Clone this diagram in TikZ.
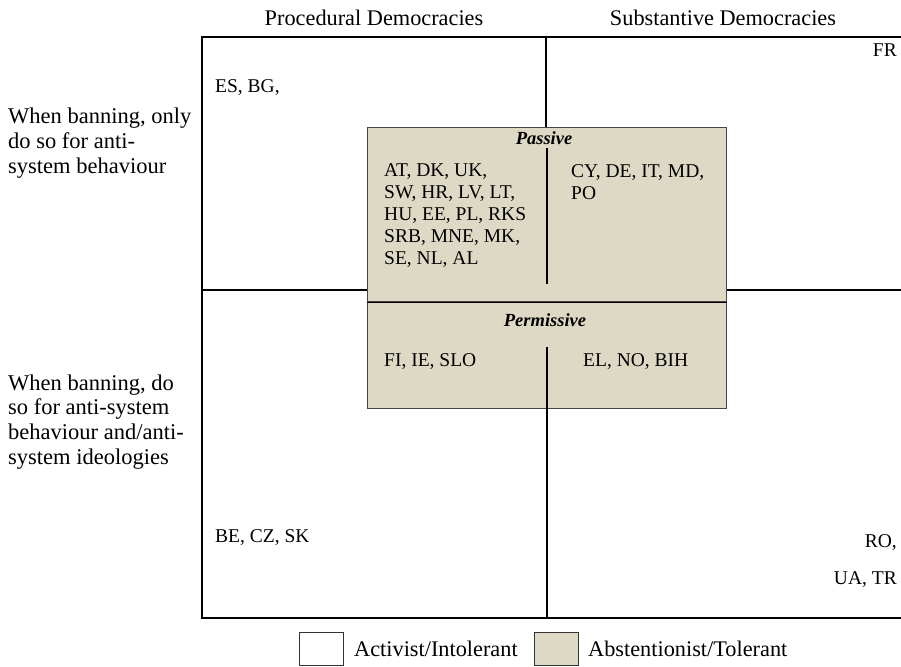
\documentclass[tikz,border=0pt]{standalone}
\usepackage{fontspec}
\setmainfont{Liberation Serif}
\usepackage{xcolor}
\definecolor{tolerant}{RGB}{221,217,196}
\definecolor{boxframe}{RGB}{70,70,70}
\usetikzlibrary{positioning}
\tikzset{
  head/.style={font=\fontsize{22.3}{24}\selectfont,inner sep=0pt},
  side/.style={font=\fontsize{22.5}{24.8}\selectfont,align=left,
    anchor=west,inner sep=0pt},
  ctry/.style={font=\fontsize{19.5}{22}\selectfont,align=left,
    anchor=west,inner sep=0pt},
  ctry_r/.style={ctry,anchor=east,align=right},
  sub/.style={font=\fontsize{18.5}{22}\selectfont\bfseries\itshape,
    inner sep=0pt},
  tolbox/.style={rectangle,draw=boxframe,fill=tolerant,line width=1.4pt,
    anchor=north west,inner sep=0pt,minimum width=359pt},
  legbox/.style={rectangle,draw=black!80,line width=1pt,
    anchor=north west,inner sep=0pt,minimum width=44pt,minimum height=33pt},
  axis/.style={line width=1.6pt,draw=black},
}

\begin{document}
\begin{tikzpicture}[x=1pt,y=-1pt]
  \useasboundingbox (0,0) rectangle (901,666);

  % column and row labels
  \node (proc) [head] at (374,18) {Procedural Democracies};
  \node (subs) [head] at (723,18) {Substantive Democracies};
  \node (only) [side] at (8,143)
    {When banning, only\\do so for anti-\\system behaviour};
  \node (both) [side] at (8,422)
    {When banning, do\\so for anti-system\\behaviour and/anti-\\system ideologies};

  % outer frame, open to the right
  \coordinate (tl) at (202,37);
  \coordinate (bl) at (202,618);
  \coordinate (tr) at (901,37);
  \coordinate (br) at (901,618);
  \draw[axis] (tr) -- (tl) -- (bl) -- (br);

  % tolerant box in the middle
  \node (pas)  [tolbox,minimum height=174pt] at (367,127) {};
  \node (perm) [tolbox,minimum height=107pt] at (367,301) {};
  \draw[axis] (pas.south west) -- (pas.south east);

  % cross lines
  \draw[axis] (202,290) -- (pas.west |- 0,290);
  \draw[axis] (pas.east |- 0,290) -- (901,290);
  \draw[axis] (546,37) -- (pas.north -| 546,0);
  \draw[axis] (547,148) -- (547,284);
  \draw[axis] (547,347) -- (547,618);

  \node (pas_t)  [sub] at (544,138) {Passive};
  \node (perm_t) [sub] at (545,320) {Permissive};

  % countries
  \node (c_es) [ctry] at (215,88) {ES, BG,};
  \node (c_fr) [ctry_r] at (897,50) {FR};
  \node (c_at) [ctry] at (384,216)
    {AT, DK, UK,\\SW, HR, LV, LT,\\HU, EE, PL, RKS\\SRB, MNE, MK,\\SE, NL, AL};
  \node (c_cy) [ctry] at (571,182) {CY, DE, IT, MD,\\PO};
  \node (c_fi) [ctry] at (384,362) {FI, IE, SLO};
  \node (c_el) [ctry] at (583,362) {EL, NO, BIH};
  \node (c_be) [ctry] at (215,538) {BE, CZ, SK};
  \node (c_ro) [ctry_r] at (897,543) {RO,};
  \node (c_ua) [ctry_r] at (897,580) {UA, TR};

  % legend
  \node (leg_a) [legbox,fill=white] at (299,632) {};
  \node (leg_a_t) [head,anchor=west,right=10pt of leg_a] {Activist/Intolerant};
  \node (leg_b) [legbox,fill=tolerant] at (534,632) {};
  \node (leg_b_t) [head,anchor=west,right=9pt of leg_b] {Abstentionist/Tolerant};
\end{tikzpicture}
\end{document}
